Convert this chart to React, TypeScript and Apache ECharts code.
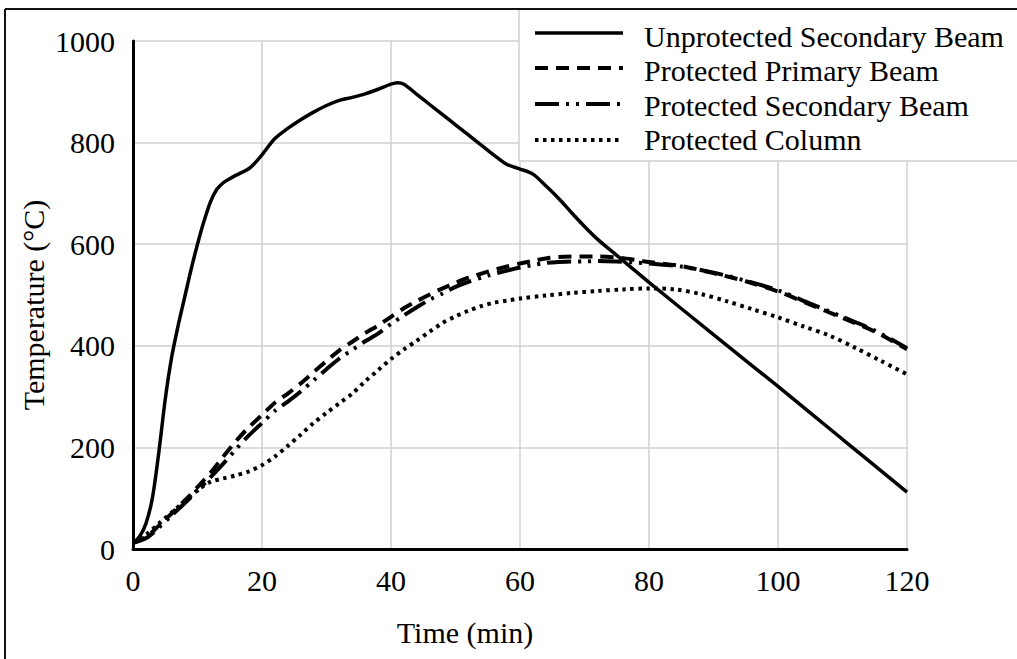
import React, { useEffect, useRef } from "react";
import * as echarts from "echarts";

const seriesNames = [
  "Unprotected Secondary Beam",
  "Protected Primary Beam",
  "Protected Secondary Beam",
  "Protected Column",
];

const xTicks = [0, 20, 40, 60, 80, 100, 120];
const yTicks = [0, 200, 400, 600, 800, 1000];

const unprotectedTime = [0, 1, 2, 3, 4, 5, 6, 7, 8, 9, 10, 11, 12, 13, 14, 15, 16, 17, 18, 19, 20, 22, 24, 26, 28, 30, 32, 34, 36, 38, 40, 41, 42, 44, 46, 48, 50, 52, 54, 56, 58, 60, 62, 64, 66, 68, 70, 72, 75, 80, 90, 100, 110, 120];
const unprotectedTemp = [12, 24, 50, 100, 190, 295, 378, 440, 495, 550, 600, 645, 683, 708, 721, 729, 736, 742, 749, 761, 776, 808, 828, 845, 860, 873, 883, 889, 896, 905, 915, 918, 915, 895, 875, 855, 835, 815, 795, 775, 757, 748, 738, 715, 690, 662, 635, 610, 578, 525, 422, 320, 216, 112];

const beamTime = [0, 2, 4, 6, 8, 10, 12, 14, 16, 18, 20, 22, 24, 26, 28, 30, 32, 34, 36, 38, 40, 42, 44, 46, 48, 50, 52, 55, 58, 60, 62, 64, 66, 68, 70, 72, 75, 78, 80, 85, 90, 95, 100, 105, 110, 115, 120];
const primaryBeamTemp = [12, 23, 46, 70, 95, 122, 150, 182, 213, 240, 264, 288, 306, 326, 348, 370, 391, 408, 425, 440, 457, 474, 488, 501, 513, 524, 534, 546, 556, 562, 567, 572, 575, 576, 576, 576, 574, 569, 565, 557, 543, 527, 507, 481, 455, 428, 393];
const secondaryBeamTemp = [12, 21, 42, 66, 90, 115, 141, 168, 197, 224, 248, 272, 290, 310, 332, 354, 375, 392, 409, 424, 443, 460, 476, 491, 503, 516, 526, 538, 548, 554, 559, 563, 565, 566, 566, 567, 566, 564, 562, 556, 544, 528, 509, 483, 457, 430, 395];

const columnTime = [0, 2, 4, 6, 8, 10, 12, 14, 16, 18, 20, 22, 24, 26, 28, 30, 32, 34, 36, 38, 40, 42, 44, 46, 48, 50, 52, 54, 56, 58, 60, 64, 68, 72, 76, 80, 84, 88, 92, 96, 100, 104, 108, 112, 116, 120];
const columnTemp = [12, 28, 50, 72, 94, 116, 132, 139, 145, 153, 165, 182, 203, 225, 248, 268, 287, 306, 330, 352, 374, 393, 410, 428, 445, 458, 469, 478, 485, 489, 493, 499, 504, 508, 511, 513, 511, 502, 488, 472, 456, 438, 420, 396, 370, 344];

const pair = (xs: number[], ys: number[]) => xs.map((x, i) => [x, ys[i]]);

const FONT = "'Liberation Serif', 'Times New Roman', serif";

const lineTypes: any[] = ["solid", [13, 8], [24, 7, 3, 7, 3, 7], [3.5, 4.5]];
const lineWidths = [3.5, 4, 4, 4];

export default function App() {
  const ref = useRef<HTMLDivElement>(null);
  useEffect(() => {
    if (!ref.current) return;
    const chart = echarts.init(ref.current, undefined, { renderer: "svg" });
    const lineSeries = (i: number, data: number[][]) => ({
      name: seriesNames[i],
      type: "line",
      data,
      symbol: "none",
      smooth: 0.3,
      lineStyle: { color: "#000", width: lineWidths[i], type: lineTypes[i], cap: "butt" },
      itemStyle: { color: "#000" },
      z: 3,
    });
    const legendLineY = [33, 68, 104, 140];
    const legendTextY = [36, 70, 105, 139];
    const legendGraphics: any[] = [];
    seriesNames.forEach((name, i) => {
      const dash = lineTypes[i] === "solid" ? null : lineTypes[i];
      legendGraphics.push({
        type: "line",
        z: 12,
        shape: { x1: 535, y1: legendLineY[i], x2: 623, y2: legendLineY[i] },
        style: { stroke: "#000", lineWidth: lineWidths[i], lineDash: dash, lineCap: "butt" },
      });
      legendGraphics.push({
        type: "text",
        z: 12,
        x: 644,
        y: legendTextY[i],
        style: {
          text: name,
          fontFamily: FONT,
          fontSize: 30,
          fill: "#000",
          verticalAlign: "middle",
          align: "left",
        },
      });
    });
    chart.setOption({
      animation: false,
      backgroundColor: "#fff",
      textStyle: { fontFamily: FONT },
      grid: { left: 133, top: 41, width: 774, height: 508, containLabel: false },
      xAxis: {
        type: "value",
        min: xTicks[0],
        max: xTicks[xTicks.length - 1],
        interval: xTicks[1] - xTicks[0],
        name: "Time (min)",
        nameLocation: "middle",
        nameGap: 68,
        nameTextStyle: { fontFamily: FONT, fontSize: 30, color: "#000", padding: [0, 110, 0, 0] },
        axisLine: { show: true, onZero: false, lineStyle: { color: "#000", width: 3 } },
        axisTick: { show: false },
        axisLabel: { fontFamily: FONT, fontSize: 30, color: "#000", margin: 16 },
        splitLine: { show: true, lineStyle: { color: "#d0d0d0", width: 1.5 } },
      },
      yAxis: {
        type: "value",
        min: yTicks[0],
        max: yTicks[yTicks.length - 1],
        interval: yTicks[1] - yTicks[0],
        axisLine: { show: true, onZero: false, lineStyle: { color: "#000", width: 3 } },
        axisTick: { show: false },
        axisLabel: {
          fontFamily: FONT,
          fontSize: 30,
          color: "#000",
          margin: 18,
          formatter: (v: number) => String(v),
        },
        splitLine: { show: true, lineStyle: { color: "#d0d0d0", width: 1.5 } },
      },
      graphic: [
        {
          type: "rect",
          z: 1,
          shape: { x: 519, y: 9, width: 600, height: 152 },
          style: { fill: "#fff", stroke: "#d0d0d0", lineWidth: 1.5 },
        },
        ...legendGraphics,
        {
          type: "text",
          z: 12,
          x: 33,
          y: 305,
          rotation: Math.PI / 2,
          style: {
            text: "Temperature (°C)",
            fontFamily: FONT,
            fontSize: 30,
            fill: "#000",
            align: "center",
            verticalAlign: "middle",
          },
        },
        {
          type: "line",
          z: 20,
          shape: { x1: 5, y1: 9, x2: 1017, y2: 9 },
          style: { stroke: "#111", lineWidth: 2 },
        },
        {
          type: "line",
          z: 20,
          shape: { x1: 5, y1: 9, x2: 5, y2: 659 },
          style: { stroke: "#111", lineWidth: 2 },
        },
      ],
      series: [
        lineSeries(0, pair(unprotectedTime, unprotectedTemp)),
        lineSeries(1, pair(beamTime, primaryBeamTemp)),
        lineSeries(2, pair(beamTime, secondaryBeamTemp)),
        lineSeries(3, pair(columnTime, columnTemp)),
      ],
    });
    return () => chart.dispose();
  }, []);
  return (
    <div
      ref={ref}
      style={{ position: "absolute", left: 0, top: 0, width: 1017, height: 659 }}
    />
  );
}
